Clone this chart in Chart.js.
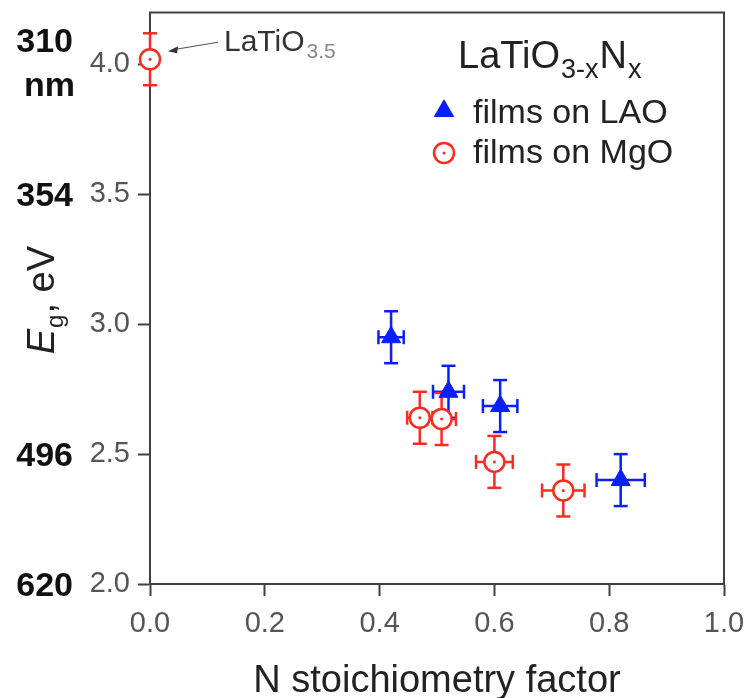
<!DOCTYPE html>
<html><head><meta charset="utf-8">
<script src="https://cdn.jsdelivr.net/npm/chart.js@4"></script>
<style>html,body{margin:0;padding:0;background:#fff}canvas{display:block}</style>
</head><body>
<canvas id="c" width="751" height="698"></canvas>
<script>
// ---- data ----
const laoX    = [0.42, 0.52, 0.61, 0.82];
const laoY    = [2.95, 2.74, 2.685, 2.40];
const laoXErr = [0.022, 0.027, 0.030, 0.042];
const laoYErr = [0.10, 0.10, 0.10, 0.10];

const mgoX    = [0.0, 0.47, 0.508, 0.60, 0.72];
const mgoY    = [4.02, 2.64, 2.635, 2.47, 2.36];
const mgoXErr = [0, 0.022, 0.025, 0.032, 0.037];
const mgoYErr = [0.10, 0.10, 0.10, 0.10, 0.10];

const xTicks = [0.0, 0.2, 0.4, 0.6, 0.8, 1.0];
const yTicks = [2.0, 2.5, 3.0, 3.5, 4.0];
const nmLabels = ['620', '496', '', '354', '310'];  // wavelength equivalents at yTicks

const seriesNames = ['films on LAO', 'films on MgO'];
const legendTitle = ['LaTiO', '3-x', 'N', 'x'];
const annotText = ['LaTiO', '3.5'];

// ---- styles ----
const F = '"Liberation Sans", Arial, Helvetica, sans-serif';
const BLUE = '#0a1eff';
const RED = '#ff2a1f';
const AX = '#404040';

function line(ctx, x1, y1, x2, y2) { ctx.beginPath(); ctx.moveTo(x1, y1); ctx.lineTo(x2, y2); ctx.stroke(); }

const errorBars = {
  id: 'errorBars',
  beforeDatasetsDraw(chart) {
    const {ctx, scales: {x, y}} = chart;
    chart.data.datasets.forEach(ds => {
      ctx.save();
      ctx.strokeStyle = ds.errColor; ctx.lineWidth = 2.5;
      const cap = 7;
      ds.data.forEach((p, i) => {
        const px = x.getPixelForValue(p.x), py = y.getPixelForValue(p.y);
        const ye = ds.yErr[i], xe = ds.xErr[i];
        if (ye) {
          const t = y.getPixelForValue(p.y + ye), b = y.getPixelForValue(p.y - ye);
          line(ctx, px, t, px, b); line(ctx, px - cap, t, px + cap, t); line(ctx, px - cap, b, px + cap, b);
        }
        if (xe) {
          const l = x.getPixelForValue(p.x - xe), r = x.getPixelForValue(p.x + xe);
          line(ctx, l, py, r, py); line(ctx, l, py - cap, l, py + cap); line(ctx, r, py - cap, r, py + cap);
        }
      });
      ctx.restore();
    });
  }
};

function tri(ctx, cx, cy, r) {
  ctx.beginPath();
  for (let k = 0; k < 3; k++) {
    const a = k * 2 * Math.PI / 3;
    const px = cx + Math.sin(a) * r, py = cy - Math.cos(a) * r;
    if (k === 0) ctx.moveTo(px, py); else ctx.lineTo(px, py);
  }
  ctx.closePath(); ctx.fill();
}
function ring(ctx, cx, cy, r) {
  ctx.beginPath(); ctx.arc(cx, cy, r, 0, Math.PI * 2);
  ctx.fillStyle = '#fff'; ctx.fill(); ctx.strokeStyle = RED; ctx.lineWidth = 2.5; ctx.stroke();
  ctx.beginPath(); ctx.arc(cx, cy, 1.5, 0, Math.PI * 2); ctx.fillStyle = RED; ctx.fill();
}

const overlay = {
  id: 'overlay',
  afterDatasetsDraw(chart) {
    const {ctx, scales: {x, y}} = chart;
    const ds = chart.data.datasets[1];
    ctx.save(); ctx.fillStyle = RED;
    ds.data.forEach(p => { ctx.beginPath(); ctx.arc(x.getPixelForValue(p.x), y.getPixelForValue(p.y), 1.5, 0, Math.PI * 2); ctx.fill(); });
    ctx.restore();
  },
  afterDraw(chart) {
    const {ctx, chartArea: ca, scales: {x, y}} = chart;
    ctx.save();
    // top & right frame
    ctx.strokeStyle = AX; ctx.lineWidth = 2;
    line(ctx, ca.left - 1, ca.top, ca.right + 1, ca.top);
    line(ctx, ca.right, ca.top, ca.right, ca.bottom);

    // wavelength labels
    ctx.fillStyle = '#111'; ctx.font = `bold 34px ${F}`; ctx.textAlign = 'right'; ctx.textBaseline = 'alphabetic';
    yTicks.forEach((v, i) => {
      const t = nmLabels[i]; if (!t) return;
      const py = y.getPixelForValue(v);
      if (i === yTicks.length - 1) {
        ctx.fillText(t, 73, py - 12);
        ctx.fillText('nm', 75, py + 32);
      } else {
        ctx.fillText(t, 73, py + 12);
      }
    });

    // y title: E_g, eV
    ctx.save();
    ctx.translate(54, (ca.top + ca.bottom) / 2 + 56);
    ctx.rotate(-Math.PI / 2);
    ctx.textAlign = 'left'; ctx.fillStyle = '#222';
    ctx.font = `italic 38px ${F}`; ctx.fillText('E', 0, 0);
    let w = ctx.measureText('E').width;
    ctx.font = `24px ${F}`; ctx.fillText('g', w + 1, 9);
    w += ctx.measureText('g').width + 2;
    ctx.font = `38px ${F}`; ctx.fillText(', eV', w, 0);
    ctx.restore();

    // x title
    ctx.fillStyle = '#222'; ctx.font = `38px ${F}`; ctx.textAlign = 'center';
    ctx.fillText('N stoichiometry factor', (ca.left + ca.right) / 2, 692);

    // annotation LaTiO3.5
    const ax0 = x.getPixelForValue(mgoX[0]), ay0 = y.getPixelForValue(mgoY[0]);
    ctx.textAlign = 'left';
    ctx.font = `30px ${F}`; ctx.fillStyle = '#333';
    const tx = ax0 + 74, ty = ay0 - 8;
    ctx.fillText(annotText[0], tx, ty);
    const aw = ctx.measureText(annotText[0]).width;
    ctx.font = `21px ${F}`; ctx.fillStyle = '#888';
    ctx.fillText(annotText[1], tx + aw + 2, ty + 7);
    // arrow
    ctx.strokeStyle = '#555'; ctx.lineWidth = 1.2;
    const tipX = ax0 + 18, tipY = ay0 - 8;
    line(ctx, tx - 6, ty - 9, tipX + 8, tipY - 2);
    ctx.fillStyle = '#333';
    ctx.beginPath(); ctx.moveTo(tipX, tipY); ctx.lineTo(tipX + 10, tipY - 5); ctx.lineTo(tipX + 9, tipY + 2); ctx.closePath(); ctx.fill();

    // legend
    ctx.fillStyle = '#222'; ctx.textAlign = 'left';
    let lx = 458;
    ctx.font = `38px ${F}`; ctx.fillText(legendTitle[0], lx, 68); lx += ctx.measureText(legendTitle[0]).width + 1;
    ctx.font = `27px ${F}`; ctx.fillText(legendTitle[1], lx, 78); lx += ctx.measureText(legendTitle[1]).width + 1;
    ctx.font = `38px ${F}`; ctx.fillText(legendTitle[2], lx, 68); lx += ctx.measureText(legendTitle[2]).width + 1;
    ctx.font = `27px ${F}`; ctx.fillText(legendTitle[3], lx, 78);

    ctx.fillStyle = BLUE; tri(ctx, 444, 111, 12);
    ring(ctx, 444, 153, 10);
    ctx.fillStyle = '#222'; ctx.font = `34px ${F}`;
    ctx.fillText(seriesNames[0], 473, 123);
    ctx.fillText(seriesNames[1], 473, 163);
    ctx.restore();
  }
};

const pts = (xs, ys) => xs.map((v, i) => ({x: v, y: ys[i]}));

new Chart(document.getElementById('c'), {
  type: 'scatter',
  data: {
    datasets: [
      {label: seriesNames[0], data: pts(laoX, laoY), xErr: laoXErr, yErr: laoYErr, errColor: BLUE,
       pointStyle: 'triangle', pointRadius: 11, backgroundColor: BLUE, borderColor: BLUE, borderWidth: 1, clip: false},
      {label: seriesNames[1], data: pts(mgoX, mgoY), xErr: mgoXErr, yErr: mgoYErr, errColor: RED,
       pointStyle: 'circle', pointRadius: 10, backgroundColor: '#fff', borderColor: RED, borderWidth: 2.5, clip: false}
    ]
  },
  options: {
    responsive: false, animation: false, events: [],
    layout: {padding: {left: 0, top: 8, right: 27, bottom: 0}},
    plugins: {legend: {display: false}, tooltip: {enabled: false}},
    scales: {
      x: {
        type: 'linear', min: 0, max: 1,
        afterBuildTicks: s => { s.ticks = xTicks.map(v => ({value: v})); },
        afterFit: s => { s.height = 114; s.paddingLeft = 0; s.paddingRight = 0; },
        ticks: {callback: v => Number(v).toFixed(1), color: '#555', font: {family: F, size: 29}, padding: 11, maxRotation: 0, autoSkip: false},
        grid: {drawOnChartArea: false, drawTicks: true, tickLength: 12, tickColor: AX, tickWidth: 2},
        border: {display: true, color: AX, width: 2}
      },
      y: {
        type: 'linear', min: 2.0, max: 4.2,
        afterBuildTicks: s => { s.ticks = yTicks.map(v => ({value: v})); },
        afterFit: s => { s.width = 150; s.paddingTop = 0; s.paddingBottom = 0; },
        ticks: {callback: v => Number(v).toFixed(1), color: '#555', font: {family: F, size: 29}, padding: 8, autoSkip: false},
        grid: {drawOnChartArea: false, drawTicks: true, tickLength: 12, tickColor: AX, tickWidth: 2},
        border: {display: true, color: AX, width: 2}
      }
    }
  },
  plugins: [errorBars, overlay]
});
</script>
</body></html>
